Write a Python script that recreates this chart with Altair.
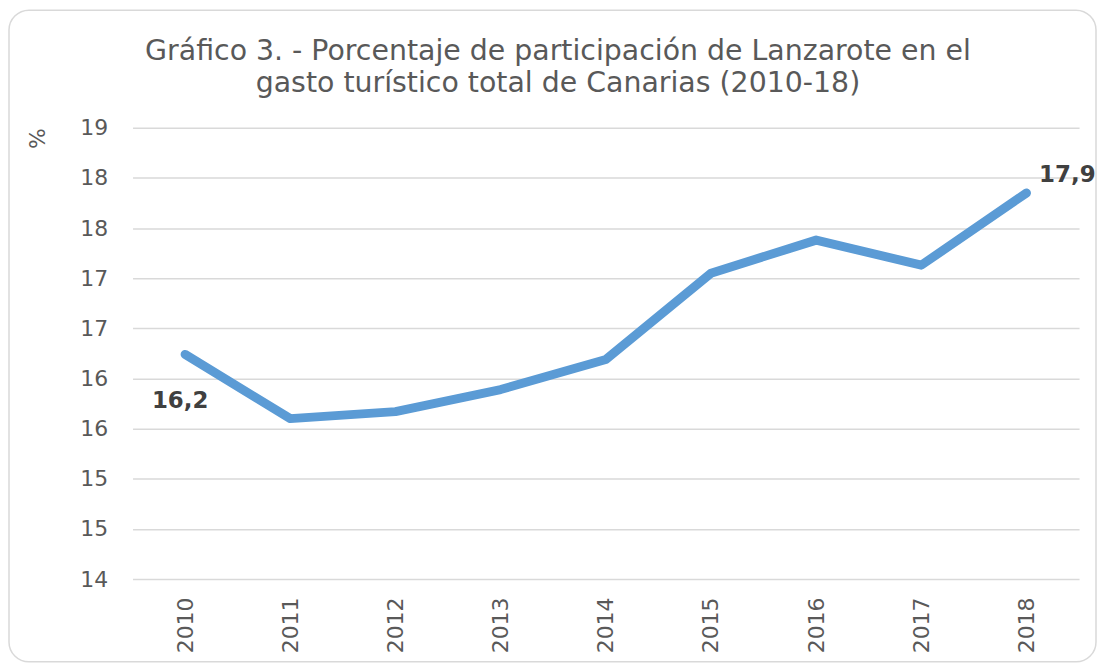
import altair as alt
import pandas as pd

years = ["2010", "2011", "2012", "2013", "2014", "2015", "2016", "2017", "2018"]
shares = [16.24, 15.60, 15.67, 15.89, 16.19, 17.05, 17.38, 17.13, 17.85]
labels = ["16,2", "", "", "", "", "", "", "", "17,9"]
y_ticks = [14, 14.5, 15, 15.5, 16, 16.5, 17, 17.5, 18, 18.5]
title_lines = [
    "Gráfico 3. - Porcentaje de participación de Lanzarote en el",
    "gasto turístico total de Canarias (2010-18)",
]

df = pd.DataFrame({"year": years, "share": shares, "label": labels})

FONT = "DejaVu Sans"
GREY = "#595959"

x_enc = alt.X(
    "year:O",
    sort=years,
    title=None,
    scale=alt.Scale(type="point", padding=0.5),
    axis=alt.Axis(
        labelAngle=270,
        labelPadding=18,
        labelFontSize=22,
        labelColor=GREY,
        labelFont=FONT,
        ticks=False,
        domain=False,
        grid=False,
    ),
)
y_enc = alt.Y(
    "share:Q",
    title="%",
    scale=alt.Scale(domain=[14, 18.5], nice=False, zero=False),
    axis=alt.Axis(
        values=y_ticks,
        format=".0f",
        labelFontSize=22,
        labelColor=GREY,
        labelFont=FONT,
        labelPadding=25,
        ticks=False,
        domain=False,
        grid=True,
        gridColor="#d9d9d9",
        gridWidth=1.5,
        titleAngle=270,
        titleAnchor="end",
        titleFontSize=22,
        titleFont=FONT,
        titleFontWeight="normal",
        titleColor=GREY,
        titlePadding=30,
    ),
)

base = alt.Chart(df)

frame = alt.Chart(alt.Data(values=[{}])).mark_rect(
    fillOpacity=0, stroke="#d9d9d9", strokeWidth=1.5, cornerRadius=20
).encode(
    x=alt.value(-124), x2=alt.value(967), y=alt.value(-118), y2=alt.value(536)
)

line = base.mark_line(
    color="#5B9BD5", strokeWidth=9, strokeCap="round", strokeJoin="round"
).encode(x=x_enc, y=y_enc)

lab_first = base.transform_filter("datum.year == '2010'").mark_text(
    font=FONT, fontWeight="bold", fontSize=23, color="#404040", dx=-5, dy=47
).encode(x=x_enc, y=y_enc, text="label:N")

lab_last = base.transform_filter("datum.year == '2018'").mark_text(
    font=FONT, fontWeight="bold", fontSize=23, color="#404040", dx=41, dy=-18
).encode(x=x_enc, y=y_enc, text="label:N")

chart = (
    alt.layer(frame, line, lab_first, lab_last)
    .properties(
        width=950,
        height=453,
        autosize=alt.AutoSizeParams(type="none"),
        padding={"left": 125, "top": 119, "right": 18, "bottom": 84},
        view=alt.ViewBackground(stroke="transparent", strokeWidth=0, strokeOpacity=0),
        title=alt.Title(
            title_lines,
            fontSize=28.5,
            font=FONT,
            fontWeight="normal",
            color=GREY,
            anchor="middle",
            frame="group",
            dx=-48,
            offset=-88,
            lineHeight=32,
        ),
    )
    .configure_view(stroke="transparent", strokeWidth=0, strokeOpacity=0)
    .configure_axis(domain=False, domainOpacity=0)
    .configure_axisX(grid=False)
    .configure(background="white")
)

chart.save("out.html", embed_options={"renderer": "svg", "actions": False})
